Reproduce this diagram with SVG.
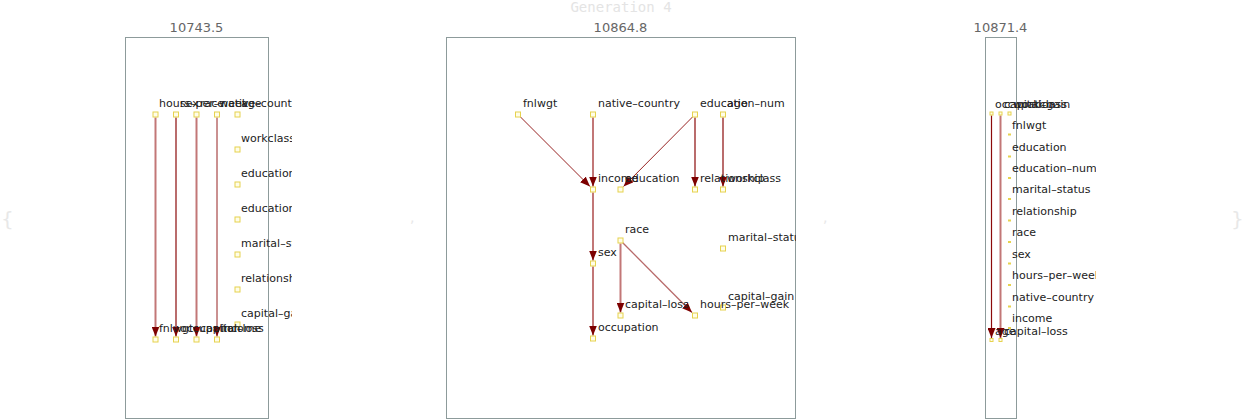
<svg xmlns="http://www.w3.org/2000/svg" width="1242" height="420" viewBox="0 0 1242 420">
<style>
.lbl{font-family:"DejaVu Sans",sans-serif;font-size:11px;fill:#222}
.ttl{font-family:"DejaVu Sans",sans-serif;font-size:13px;fill:#666;text-anchor:middle}
.gen{font-family:"DejaVu Sans Mono",monospace;font-size:14px;fill:#e4e4e4;text-anchor:middle}
.faint{font-family:"DejaVu Sans",sans-serif;fill:#e8e8e8}
.panel{fill:none;stroke:#8d9b9b;stroke-width:1}
.nd{fill:#fffde8;stroke:#e6d24e;stroke-width:1}
.nds{fill:#e6d24e}
.lt{stroke:#c27777;stroke-width:2;fill:none}
.dk{stroke:#8b0a0a;stroke-width:1.2;fill:none}
.th{stroke:#8b0a0a;stroke-width:0.9;fill:none}
.md{stroke:#b86a6a;stroke-width:1.3;fill:none}
</style>
<defs>
<marker id="arr" markerUnits="userSpaceOnUse" markerWidth="10" markerHeight="8" refX="10" refY="4" orient="auto">
<path d="M0,0 L10,4 L0,8 z" fill="#7d0000"/>
</marker>
<clipPath id="clipL"><rect x="0" y="0" width="292" height="420"/></clipPath>
<clipPath id="clipM"><rect x="420" y="0" width="376" height="420"/></clipPath>
<clipPath id="clipR"><rect x="830" y="0" width="266" height="420"/></clipPath>
</defs>
<rect width="1242" height="420" fill="#fff"/>
<text class="faint" x="1" y="226" font-size="20">{</text>
<text class="faint" x="410" y="222" font-size="14">,</text>
<text class="faint" x="823" y="222" font-size="14">,</text>
<text class="faint" x="1231" y="226" font-size="20">}</text>
<text class="gen" x="621" y="12">Generation 4</text>

<g id="panels">
<rect class="panel" x="125.5" y="37.5" width="143" height="381"/>
<text class="ttl" x="196.5" y="32">10743.5</text>
<rect class="panel" x="446.5" y="37.5" width="349" height="381"/>
<text class="ttl" x="620.5" y="32">10864.8</text>
<rect class="panel" x="985.5" y="37.5" width="31" height="381"/>
<text class="ttl" x="1000.5" y="32">10871.4</text>
</g>

<g id="connectors">
<path class="lt" d="M155.5,117.5 L155.5,336.5" marker-end="url(#arr)"/>
<path class="dk" d="M176,117.5 L176,336.5" marker-end="url(#arr)"/>
<path class="lt" d="M196.5,117.5 L196.5,336.5" marker-end="url(#arr)"/>
<path class="th" d="M217,117.5 L217,336.5" marker-end="url(#arr)"/>

<path class="th" d="M520,116.5 L590,186.5" marker-end="url(#arr)"/>
<path class="lt" d="M593,117.5 L593,186.5" marker-end="url(#arr)"/>
<path class="th" d="M693,116.5 L623.5,186.5" marker-end="url(#arr)"/>
<path class="dk" d="M695,117.5 L695,186.5" marker-end="url(#arr)"/>
<path class="dk" d="M723,117.5 L723,186.5" marker-end="url(#arr)"/>
<path class="lt" d="M593,192.5 L593,260.5" marker-end="url(#arr)"/>
<path class="lt" d="M593,266.5 L593,335.5" marker-end="url(#arr)"/>
<path class="lt" d="M620.5,243.5 L620.5,312.5" marker-end="url(#arr)"/>
<path class="md" d="M622.5,242.5 L692,312.5" marker-end="url(#arr)"/>

<path class="dk" d="M991.5,115.5 L991.5,338" marker-end="url(#arr)"/>
<path class="lt" d="M1000.5,115.5 L1000.5,338" marker-end="url(#arr)"/>
</g>

<g id="nodes-left" clip-path="url(#clipL)">
<g id="L-hours-per-week"><rect class="nd" x="153" y="112" width="5" height="5"/><text class="lbl" x="159" y="107">hours–per–week</text></g>
<g id="L-sex"><rect class="nd" x="173.5" y="112" width="5" height="5"/><text class="lbl" x="180" y="107">sex</text></g>
<g id="L-race"><rect class="nd" x="194" y="112" width="5" height="5"/><text class="lbl" x="200" y="107">race</text></g>
<g id="L-native-country"><rect class="nd" x="214.5" y="112" width="5" height="5"/><text class="lbl" x="221" y="107">native–country</text></g>
<g id="L-age"><rect class="nd" x="235" y="112" width="5" height="5"/><text class="lbl" x="241" y="107">age</text></g>
<g id="L-workclass"><rect class="nd" x="235" y="147" width="5" height="5"/><text class="lbl" x="241" y="142">workclass</text></g>
<g id="L-education"><rect class="nd" x="235" y="182" width="5" height="5"/><text class="lbl" x="241" y="177">education</text></g>
<g id="L-education-num"><rect class="nd" x="235" y="217" width="5" height="5"/><text class="lbl" x="241" y="212">education–num</text></g>
<g id="L-marital-status"><rect class="nd" x="235" y="252" width="5" height="5"/><text class="lbl" x="241" y="247">marital–status</text></g>
<g id="L-relationship"><rect class="nd" x="235" y="287" width="5" height="5"/><text class="lbl" x="241" y="282">relationship</text></g>
<g id="L-capital-gain"><rect class="nd" x="235" y="322" width="5" height="5"/><text class="lbl" x="241" y="317">capital–gain</text></g>
<g id="L-fnlwgt"><rect class="nd" x="153" y="337" width="5" height="5"/><text class="lbl" x="159" y="332">fnlwgt</text></g>
<g id="L-occupation"><rect class="nd" x="173.5" y="337" width="5" height="5"/><text class="lbl" x="180" y="332">occupation</text></g>
<g id="L-capital-loss"><rect class="nd" x="194" y="337" width="5" height="5"/><text class="lbl" x="200" y="332">capital–loss</text></g>
<g id="L-income"><rect class="nd" x="214.5" y="337" width="5" height="5"/><text class="lbl" x="221" y="332">income</text></g>
</g>

<g id="nodes-middle" clip-path="url(#clipM)">
<g id="M-fnlwgt"><rect class="nd" x="515.5" y="112" width="5" height="5"/><text class="lbl" x="523" y="107">fnlwgt</text></g>
<g id="M-native-country"><rect class="nd" x="590.5" y="112" width="5" height="5"/><text class="lbl" x="598" y="107">native–country</text></g>
<g id="M-education-num"><rect class="nd" x="692.5" y="112" width="5" height="5"/><text class="lbl" x="700" y="107">education–num</text></g>
<g id="M-age"><rect class="nd" x="720.5" y="112" width="5" height="5"/><text class="lbl" x="727" y="107">age</text></g>
<g id="M-income"><rect class="nd" x="590.5" y="187" width="5" height="5"/><text class="lbl" x="598" y="182">income</text></g>
<g id="M-education"><rect class="nd" x="618" y="187" width="5" height="5"/><text class="lbl" x="625" y="182">education</text></g>
<g id="M-relationship"><rect class="nd" x="692.5" y="187" width="5" height="5"/><text class="lbl" x="700" y="182">relationship</text></g>
<g id="M-workclass"><rect class="nd" x="720.5" y="187" width="5" height="5"/><text class="lbl" x="727" y="182">workclass</text></g>
<g id="M-race"><rect class="nd" x="618" y="238" width="5" height="5"/><text class="lbl" x="625" y="233">race</text></g>
<g id="M-marital-status"><rect class="nd" x="720.5" y="246" width="5" height="5"/><text class="lbl" x="728" y="241">marital–status</text></g>
<g id="M-sex"><rect class="nd" x="590.5" y="261" width="5" height="5"/><text class="lbl" x="598" y="256">sex</text></g>
<g id="M-capital-gain"><rect class="nd" x="720.5" y="305" width="5" height="5"/><text class="lbl" x="728" y="300">capital–gain</text></g>
<g id="M-capital-loss"><rect class="nd" x="618" y="313" width="5" height="5"/><text class="lbl" x="625" y="308">capital–loss</text></g>
<g id="M-hours-per-week"><rect class="nd" x="692.5" y="313" width="5" height="5"/><text class="lbl" x="700" y="308">hours–per–week</text></g>
<g id="M-occupation"><rect class="nd" x="590.5" y="336" width="5" height="5"/><text class="lbl" x="598" y="331">occupation</text></g>
</g>

<g id="nodes-right" clip-path="url(#clipR)">
<g id="R-occupation"><rect class="nd" x="990" y="112" width="3" height="3"/><text class="lbl" x="995" y="108">occupation</text></g>
<g id="R-capital-gain"><rect class="nd" x="999" y="112" width="3" height="3"/><text class="lbl" x="1004" y="108">capital–gain</text></g>
<g id="R-workclass"><rect class="nd" x="1008" y="112" width="3" height="3"/><text class="lbl" x="1013" y="108">workclass</text></g>
<g id="R-fnlwgt"><rect class="nds" x="1008" y="133.5" width="3" height="2"/><text class="lbl" x="1012" y="129">fnlwgt</text></g>
<g id="R-education"><rect class="nds" x="1008" y="155.5" width="3" height="2"/><text class="lbl" x="1012" y="151">education</text></g>
<g id="R-education-num"><rect class="nds" x="1008" y="177" width="3" height="2"/><text class="lbl" x="1012" y="172">education–num</text></g>
<g id="R-marital-status"><rect class="nds" x="1008" y="198" width="3" height="2"/><text class="lbl" x="1012" y="193">marital–status</text></g>
<g id="R-relationship"><rect class="nds" x="1008" y="219.5" width="3" height="2"/><text class="lbl" x="1012" y="215">relationship</text></g>
<g id="R-race"><rect class="nds" x="1008" y="241" width="3" height="2"/><text class="lbl" x="1012" y="236">race</text></g>
<g id="R-sex"><rect class="nds" x="1008" y="262.5" width="3" height="2"/><text class="lbl" x="1012" y="258">sex</text></g>
<g id="R-hours-per-week"><rect class="nds" x="1008" y="284" width="3" height="2"/><text class="lbl" x="1012" y="279">hours–per–week</text></g>
<g id="R-native-country"><rect class="nds" x="1008" y="305.5" width="3" height="2"/><text class="lbl" x="1012" y="301">native–country</text></g>
<g id="R-income"><rect class="nds" x="1008" y="327" width="3" height="2"/><text class="lbl" x="1012" y="322">income</text></g>
<g id="R-age"><rect class="nd" x="990" y="338.5" width="3" height="3"/><text class="lbl" x="995" y="334.5">age</text></g>
<g id="R-capital-loss"><rect class="nd" x="999" y="338.5" width="3" height="3"/><text class="lbl" x="1004" y="334.5">capital–loss</text></g>
</g>
</svg>
